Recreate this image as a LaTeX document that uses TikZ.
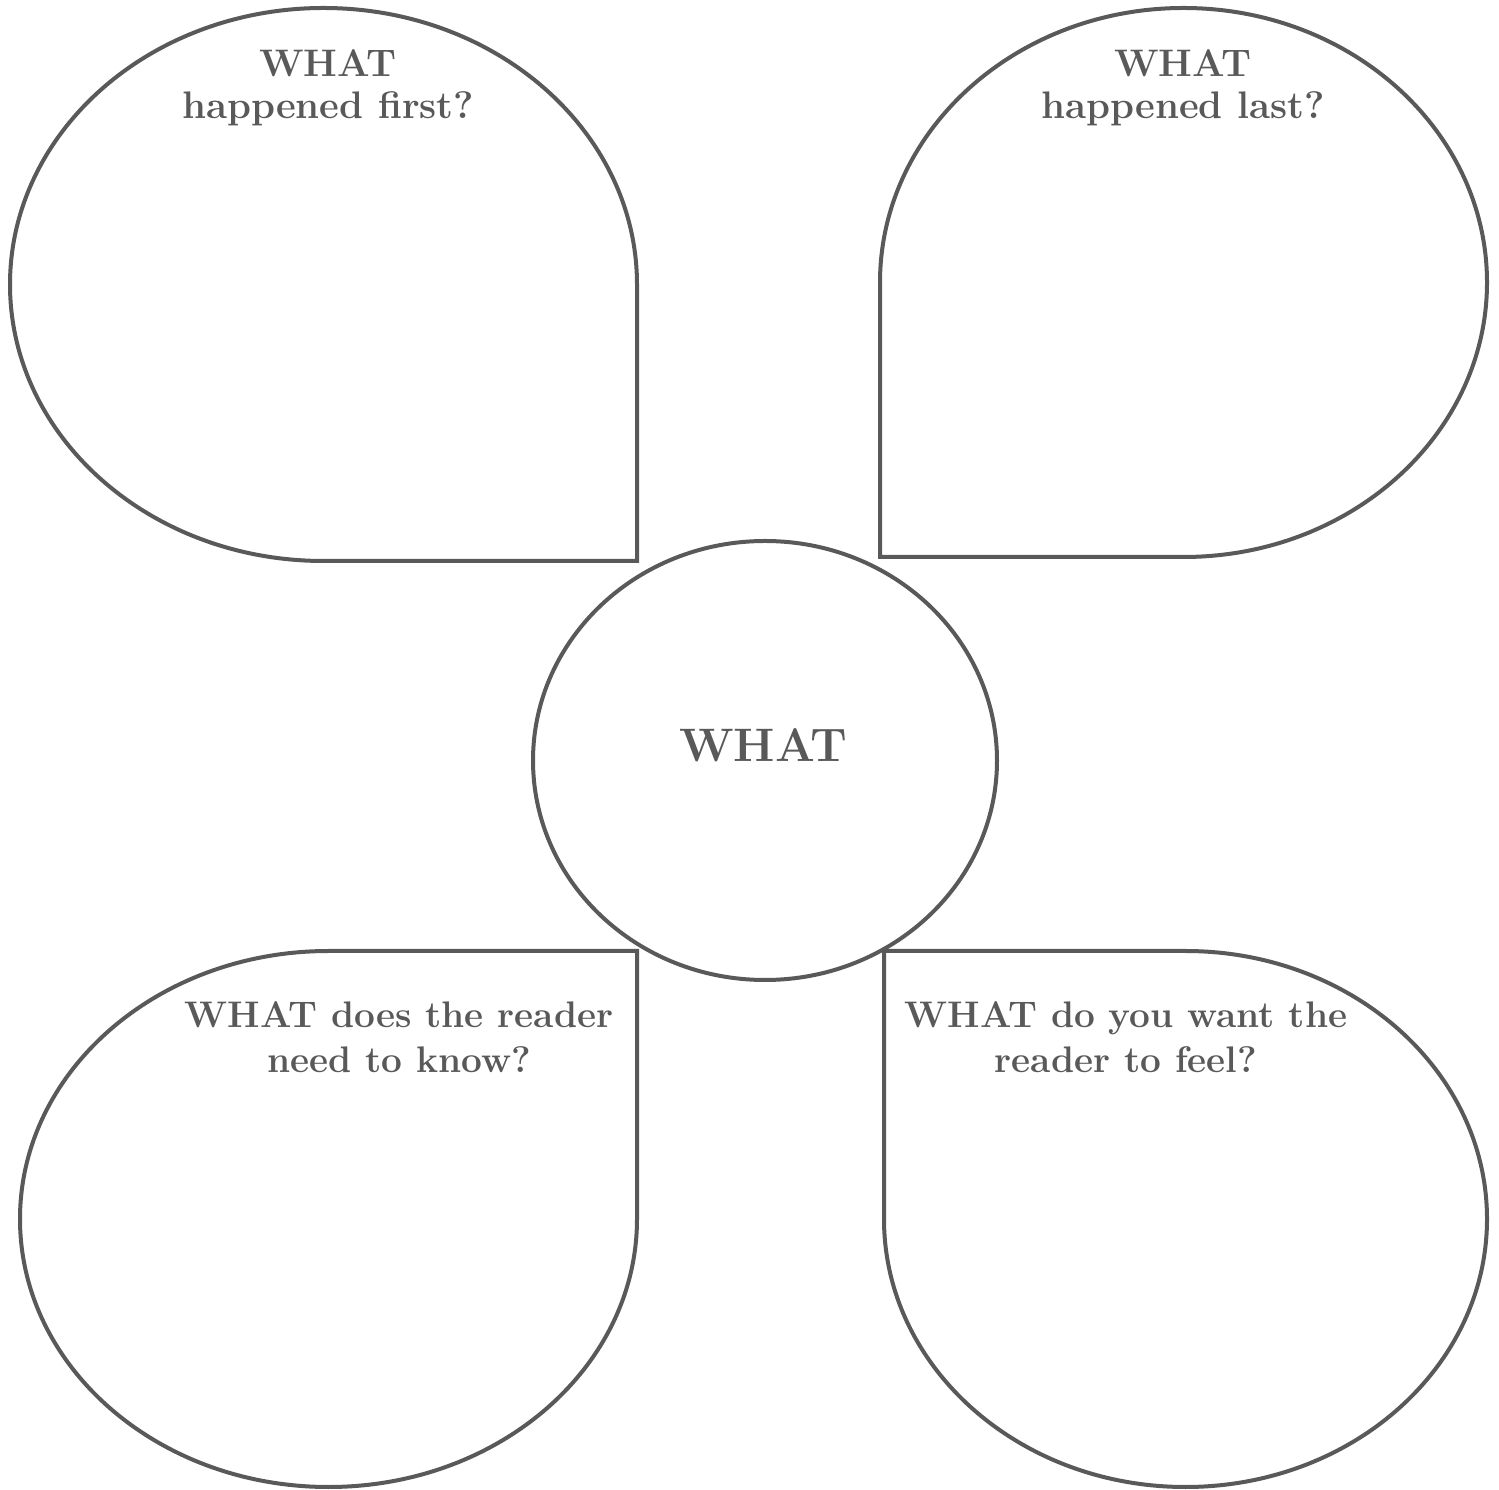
\documentclass[tikz,border=0pt]{standalone}
\usepackage{tikz}
\definecolor{ink}{HTML}{595959}
\tikzset{
  petal/.style={draw=ink, line width=2pt, fill=white, line join=miter},
  hub/.style={draw=ink, line width=2pt, fill=white},
  toplabel/.style={text=ink, inner sep=0pt, align=center, anchor=north,
    font=\fontsize{19.2}{21.2}\selectfont\bfseries},
  botlabel/.style={text=ink, inner sep=0pt, align=center, anchor=north,
    font=\fontsize{18.5}{22.5}\selectfont\bfseries},
  hublabel/.style={text=ink, inner sep=0pt, anchor=base,
    font=\fontsize{23.5}{27}\selectfont\bfseries}
}
\begin{document}
\begin{tikzpicture}[x=0.5pt,y=0.5pt]
\useasboundingbox (0,0) rectangle (1499,1489);
% top-left petal
\draw[petal] (637,1204.5) arc[start angle=0,end angle=270,x radius=313.5,y radius=276.5] -- (637,928) -- cycle;
% top-right petal
\draw[petal] (880,1206.5) arc[start angle=180,end angle=-90,x radius=303.5,y radius=274.5] -- (880,932) -- cycle;
% bottom-left petal
\draw[petal] (637,270) arc[start angle=0,end angle=-270,x radius=308.5,y radius=268] -- (637,538) -- cycle;
% bottom-right petal
\draw[petal] (884,270) arc[start angle=180,end angle=450,x radius=301.5,y radius=268] -- (884,538) -- cycle;
% centre
\draw[hub] (765,728.5) ellipse[x radius=232,y radius=219.5];
% labels
\node[toplabel] (tl) at (328,1440) {WHAT\\happened first?};
\node[toplabel] (tr) at (1183,1440) {WHAT\\happened last?};
\node[botlabel] (bl) at (399,488) {WHAT does the reader\\need to know?};
\node[botlabel] (br) at (1126,488) {WHAT do you want the\\reader to feel?};
\node[hublabel] (c) at (763.5,727) {WHAT};
\end{tikzpicture}
\end{document}
